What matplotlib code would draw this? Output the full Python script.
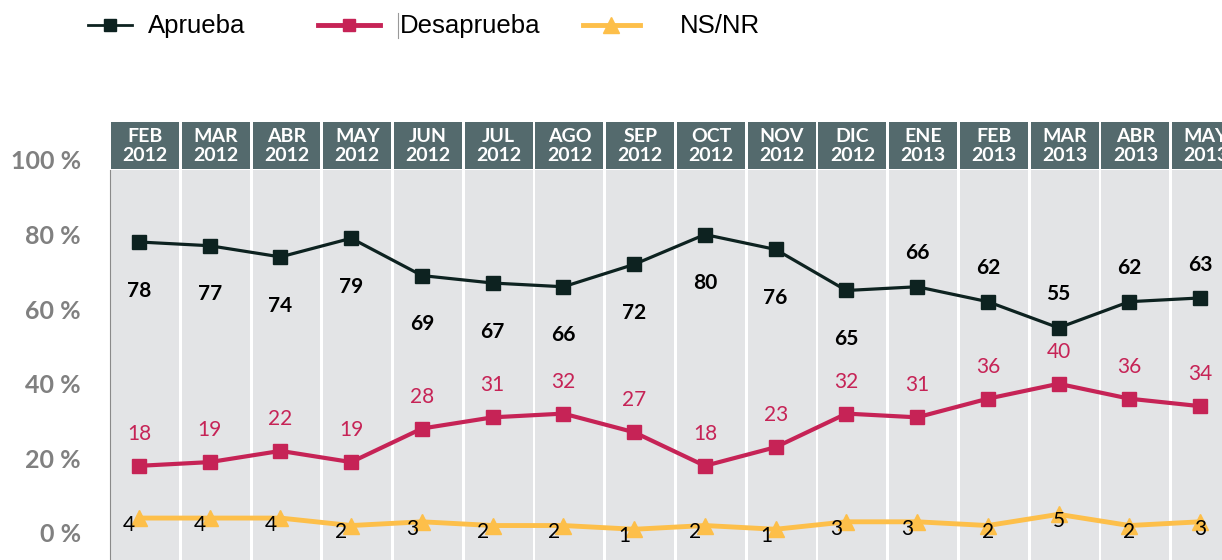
import matplotlib
matplotlib.use("Agg")
import matplotlib.pyplot as plt
from matplotlib.lines import Line2D
from matplotlib.patches import Rectangle

# data
meses = ["FEB", "MAR", "ABR", "MAY", "JUN", "JUL", "AGO", "SEP",
         "OCT", "NOV", "DIC", "ENE", "FEB", "MAR", "ABR", "MAY"]
anios = ["2012"] * 11 + ["2013"] * 5
aprueba = [78, 77, 74, 79, 69, 67, 66, 72, 80, 76, 65, 66, 62, 55, 62, 63]
desaprueba = [18, 19, 22, 19, 28, 31, 32, 27, 18, 23, 32, 31, 36, 40, 36, 34]
nsnr = [4, 4, 4, 2, 3, 2, 2, 1, 2, 1, 3, 3, 2, 5, 2, 3]

c_apr = "#0d2220"
c_des = "#c62356"
c_ns = "#fdbf4a"
c_head = "#546a6d"
c_band = "#e3e4e6"

W, H = 1222, 560
fig = plt.figure(figsize=(W / 100, H / 100), dpi=100)
ax = fig.add_axes([110 / W, 0, 1 - 110 / W, 1 - 120 / H])

x = list(range(len(meses)))
ax.set_xlim(-0.41, 15.31)
ax.set_ylim(-7.24, 110.7)

# column bands + headers
off = 0.085
for i in x:
    ax.add_patch(Rectangle((i + off - 0.48, -10), 0.96, 107.3, color=c_band, lw=0, zorder=0))
    ax.add_patch(Rectangle((i + off - 0.48, 97.6), 0.96, 12.6, color=c_head, lw=0, zorder=0))
    ax.text(i + off, 103.7, meses[i] + "\n" + anios[i], ha="center", va="center",
            color="white", fontsize=14, fontweight="bold", family="Lato",
            linespacing=1.1, zorder=1)

ax.plot(x, aprueba, color=c_apr, lw=2.3, marker="s", ms=10, zorder=3)
ax.plot(x, desaprueba, color=c_des, lw=3, marker="s", ms=10, zorder=3)
ax.plot(x, nsnr, color=c_ns, lw=3.5, marker="^", ms=12, zorder=3)

for i in x:
    dy = 24 if i >= 11 else -35
    ax.annotate(str(aprueba[i]), (i, aprueba[i]), xytext=(0, dy), textcoords="offset points",
                ha="center", va="center", fontsize=15, fontweight="bold",
                family="Lato", color="black", zorder=4)
    ax.annotate(str(desaprueba[i]), (i, desaprueba[i]), xytext=(0, 23), textcoords="offset points",
                ha="center", va="center", fontsize=15, family="Lato", color=c_des, zorder=4)
    nx = -7 if i < 12 else 0
    ax.annotate(str(nsnr[i]), (i, nsnr[i]), xytext=(nx, -5), textcoords="offset points",
                ha="center", va="center", fontsize=15, family="Lato", color="black", zorder=4)

ax.set_xticks([])
ax.set_yticks([0, 20, 40, 60, 80, 100])
ax.set_yticklabels(["0 %", "20 %", "40 %", "60 %", "80 %", "100 %"])
ax.tick_params(axis="y", length=0, pad=21, labelsize=18, labelcolor="#808080")
for lab in ax.get_yticklabels():
    lab.set_fontweight("bold")
    lab.set_family("Lato")
for s in ["top", "right", "bottom"]:
    ax.spines[s].set_visible(False)
ax.spines["left"].set_color("#8a8a8a")
ax.spines["left"].set_bounds(-7.24, 97.3)
ax.patch.set_alpha(0)

# legend drawn by hand at the top
def fx(px):
    return px / W

def fy(py):
    return 1 - py / H

items = [("Aprueba", c_apr, "s", 2, 88, 132, 110, 148, 9),
         ("Desaprueba", c_des, "s", 3.5, 318, 380, 349, 400, 9),
         ("NS/NR", c_ns, "^", 3.5, 583, 640, 611, 680, 12)]
for name, col, mk, lw, x0, x1, xm, xt, ms in items:
    fig.add_artist(Line2D([fx(x0), fx(x1)], [fy(25), fy(25)], color=col, lw=lw,
                          transform=fig.transFigure))
    fig.add_artist(Line2D([fx(xm)], [fy(25)], color=col, marker=mk, ms=ms, lw=0,
                          transform=fig.transFigure))
    fig.text(fx(xt), fy(26), name, ha="left", va="center", fontsize=18.5,
             family="Liberation Sans", color="black")
fig.add_artist(Line2D([fx(398), fx(398)], [fy(13), fy(38)], color="#999999", lw=0.8,
                      transform=fig.transFigure))

fig.savefig("out.png", dpi=100)
